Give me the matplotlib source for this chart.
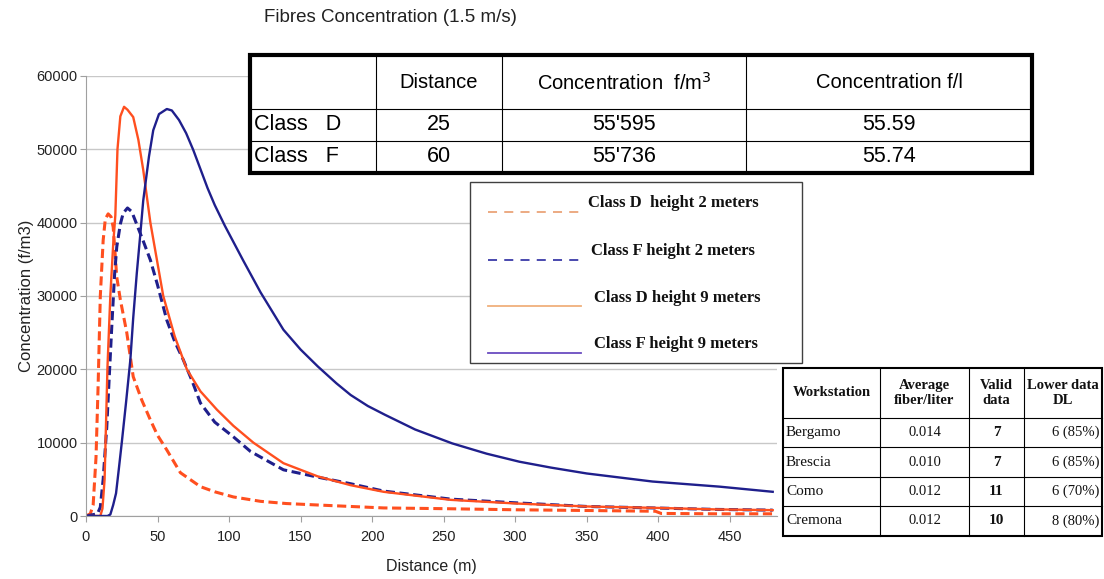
import matplotlib
matplotlib.use("Agg")
import matplotlib.pyplot as plt
from matplotlib.patches import Rectangle

SANS = "Liberation Sans"
SERIF = "Liberation Serif"

# curves (distance m, concentration f/m3)
d2_x = [0, 3, 5, 7, 8.5, 10, 12, 13.5, 15.5, 17.5, 19, 21.5, 24, 28.5, 33, 39, 45, 50,
        56.5, 66, 80, 90, 103, 122, 140, 162, 185, 208, 250, 300, 350, 398, 402, 440, 480]
d2_y = [0, 300, 1500, 8000, 18000, 30000, 37600, 40500, 41200, 40800, 39400, 32600, 29500,
        25000, 19000, 15800, 13100, 11000, 9000, 5900, 4000, 3300, 2600, 2000, 1700, 1500,
        1300, 1100, 1000, 850, 750, 650, 350, 300, 300]

f2_x = [0, 8, 10, 12, 14.5, 16, 18, 20, 21.5, 24, 26, 29, 32, 35, 40, 45, 50, 56.5, 62, 68,
        74, 80, 90, 103, 115, 138, 162, 185, 208, 255, 300, 350, 396, 440, 480]
f2_y = [0, 300, 1200, 5000, 12100, 18000, 25800, 33000, 36700, 39800, 41300, 42000, 41500,
        40000, 37500, 34900, 31500, 26700, 23800, 21300, 18500, 15400, 12800, 10800, 8800,
        6300, 5300, 4400, 3400, 2300, 1800, 1300, 1100, 900, 800]

d9_x = [0, 10, 11.5, 13, 15, 17, 19, 20.5, 22, 24, 26.6, 29, 33, 36.6, 40, 45, 54, 62, 70.5,
        80, 91.5, 103, 117, 138, 162, 185, 208, 255, 301, 350, 400, 440, 480]
d9_y = [0, 0, 1000, 5000, 20300, 30000, 37000, 41000, 50000, 54500, 55800, 55400, 54400,
        51300, 47200, 40000, 30000, 24500, 20000, 17000, 14500, 12300, 10000, 7200, 5400,
        4200, 3300, 2200, 1700, 1300, 1100, 900, 800]

f9_x = [0, 15, 17, 19, 21, 23, 25, 28, 31, 33, 35.5, 38, 40, 44, 47, 51, 56.5, 60, 65, 70,
        75, 80, 85, 90, 97, 110, 122, 138, 150, 162, 175, 185, 197, 209, 230, 256, 280, 303,
        325, 350, 396, 443, 480]
f9_y = [0, 0, 200, 1500, 3100, 6500, 10000, 15500, 21300, 27000, 33100, 38500, 43000, 49000,
        52600, 54800, 55500, 55300, 54000, 52200, 49900, 47300, 44700, 42400, 39600, 34800,
        30500, 25400, 22700, 20400, 18100, 16500, 15000, 13800, 11800, 9900, 8500, 7400,
        6600, 5800, 4700, 4000, 3300]

legend_labels = ["Class D  height 2 meters", "Class F height 2 meters",
                 "Class D height 9 meters", "Class F height 9 meters"]

top_header = ["", "Distance", "Concentration  f/m$^3$", "Concentration f/l"]
top_rows = [["Class   D", "25", "55'595", "55.59"],
            ["Class   F", "60", "55'736", "55.74"]]

ws_header = ["Workstation", "Average\nfiber/liter", "Valid\ndata", "Lower data\nDL"]
ws_names = ["Bergamo", "Brescia", "Como", "Cremona"]
ws_avg = ["0.014", "0.010", "0.012", "0.012"]
ws_valid = ["7", "7", "11", "10"]
ws_lower = ["6 (85%)", "6 (85%)", "6 (70%)", "8 (80%)"]

orange = "#ff4f1f"
navy = "#1f1f8c"

fig = plt.figure(figsize=(11.04, 5.79), dpi=100)
W, H = 1104, 579
ax = fig.add_axes([86 / W, 1 - 516 / H, (777 - 86) / W, 440 / H])

ax.plot(d2_x, d2_y, color=orange, lw=2.2, dashes=(3, 1.5))
ax.plot(f2_x, f2_y, color=navy, lw=2.2, dashes=(3, 1.5))
ax.plot(d9_x, d9_y, color=orange, lw=1.7)
ax.plot(f9_x, f9_y, color=navy, lw=1.7)

ax.set_xlim(0, 483)
ax.set_ylim(0, 60000)
ax.set_xticks(range(0, 451, 50))
ax.set_yticks(range(0, 60001, 10000))
ax.grid(axis="y", color="#c8c8c8", lw=1)
ax.set_axisbelow(True)
for s in ["top", "right"]:
    ax.spines[s].set_visible(False)
for s in ["left", "bottom"]:
    ax.spines[s].set_color("#a0a0a0")
ax.tick_params(colors="#a0a0a0", labelcolor="#222222", length=4, labelsize=10.5)
ax.tick_params(axis="y", pad=2)
ax.tick_params(axis="x", pad=6)
for lab in ax.get_xticklabels() + ax.get_yticklabels():
    lab.set_family(SANS)
ax.set_xlabel("Distance (m)", family=SANS, fontsize=11.5, color="#222222", labelpad=11)
ax.set_ylabel("Concentration (f/m3)", family=SANS, fontsize=12, color="#222222", labelpad=2)

fig.text(390 / W, 1 - 18 / H, "Fibres Concentration (1.5 m/s)", family=SANS,
         fontsize=13.5, ha="center", va="center", color="#222222")

# overlay in pixel coordinates for the boxes
ov = fig.add_axes([0, 0, 1, 1])
ov.set_xlim(0, W)
ov.set_ylim(H, 0)
ov.axis("off")

# top table
cols = [250, 376, 502, 746, 1032]
rows = [55, 109, 141, 173]
ov.add_patch(Rectangle((cols[0], rows[0]), cols[-1] - cols[0], rows[-1] - rows[0],
                       facecolor="white", edgecolor="black", lw=3, zorder=3))
for c in cols[1:-1]:
    ov.plot([c, c], [rows[0], rows[-1]], color="black", lw=0.8, zorder=4)
for r in rows[1:-1]:
    ov.plot([cols[0], cols[-1]], [r, r], color="black", lw=0.8, zorder=4)
for j, txt in enumerate(top_header):
    ov.text((cols[j] + cols[j + 1]) / 2, (rows[0] + rows[1]) / 2 + 1, txt, family=SANS,
            fontsize=14.5, ha="center", va="center", zorder=5)
for i, row in enumerate(top_rows):
    yc = (rows[i + 1] + rows[i + 2]) / 2
    for j, txt in enumerate(row):
        if j == 0:
            ov.text(cols[0] + 4, yc, txt, family=SANS, fontsize=15.5, ha="left", va="center", zorder=5)
        else:
            ov.text((cols[j] + cols[j + 1]) / 2, yc, txt, family=SANS, fontsize=15.5,
                    ha="center", va="center", zorder=5)

# legend box
ov.add_patch(Rectangle((470, 182), 332, 181, facecolor="white", edgecolor="#404040",
                       lw=1, zorder=3))
leg_style = [("#eaa478", (5, 4)), ("#3a3aa8", (5, 4)), ("#f0b07c", None), ("#6a4cc0", None)]
leg_line_y = [212, 260, 306, 353]
leg_text_y = [203, 251, 298, 344]
leg_text_x = [588, 591, 594, 594]
for k, lab in enumerate(legend_labels):
    col, dsh = leg_style[k]
    ln, = ov.plot([488, 581], [leg_line_y[k]] * 2, color=col, lw=1.3, zorder=4)
    if dsh:
        ln.set_dashes(dsh)
    ov.text(leg_text_x[k], leg_text_y[k], lab, family=SERIF, fontweight="bold",
            fontsize=12, ha="left", va="center", color="#111111", zorder=5)

# workstation table
wc = [783, 880, 969, 1024, 1102]
wr = [368, 418, 447, 477, 506, 536]
ov.add_patch(Rectangle((wc[0], wr[0]), wc[-1] - wc[0], wr[-1] - wr[0], facecolor="white",
                       edgecolor="black", lw=1.5, zorder=3))
for c in wc[1:-1]:
    ov.plot([c, c], [wr[0], wr[-1]], color="black", lw=0.8, zorder=4)
for r in wr[1:-1]:
    ov.plot([wc[0], wc[-1]], [r, r], color="black", lw=0.8, zorder=4)
for j, txt in enumerate(ws_header):
    ov.text((wc[j] + wc[j + 1]) / 2, (wr[0] + wr[1]) / 2, txt, family=SERIF,
            fontweight="bold", fontsize=10.5, ha="center", va="center", linespacing=1.2,
            color="#111111", zorder=5)
for i in range(len(ws_names)):
    yc = (wr[i + 1] + wr[i + 2]) / 2
    ov.text(wc[0] + 3, yc, ws_names[i], family=SERIF, fontsize=11, ha="left",
            va="center", color="#111111", zorder=5)
    ov.text((wc[1] + wc[2]) / 2, yc, ws_avg[i], family=SERIF, fontsize=10.5, ha="center",
            va="center", color="#111111", zorder=5)
    ov.text((wc[2] + wc[3]) / 2, yc, ws_valid[i], family=SERIF, fontsize=11,
            fontweight="bold", ha="center", va="center", color="#111111", zorder=5)
    ov.text(wc[4] - 3, yc, ws_lower[i], family=SERIF, fontsize=10.5, ha="right",
            va="center", color="#111111", zorder=5)

fig.savefig("out.png", dpi=100)
